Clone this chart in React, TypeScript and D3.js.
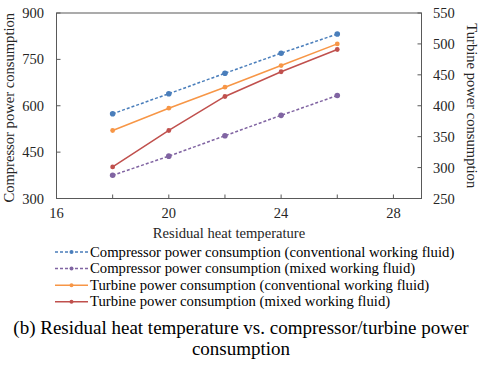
import React, { useEffect, useRef } from "react";
import * as d3 from "d3";

const temps = [18, 20, 22, 24, 26];
const compConv = [574, 639, 705, 770, 832];
const compMixed = [375, 437, 503, 569, 633];
const turbConv = [360, 396, 430, 465, 500];
const turbMixed = [301, 360, 415, 455, 491];

const xTickLabels = [16, 20, 24, 28];
const xMinorTicks = [18, 22, 26];
const leftTicks = [300, 450, 600, 750, 900];
const rightTicks = [250, 300, 350, 400, 450, 500, 550];

const seriesNames = [
  "Compressor power consumption (conventional working fluid)",
  "Compressor power consumption (mixed working fluid)",
  "Turbine power consumption (conventional working fluid)",
  "Turbine power consumption (mixed working fluid)",
];
const seriesColors = ["#4a7ebb", "#8064a2", "#f79646", "#c0504d"];

const FONT = "Times New Roman, Liberation Serif, DejaVu Serif, serif";

const App = () => {
  const svgRef = useRef<SVGSVGElement>(null);

  useEffect(() => {
    const svg = d3.select(svgRef.current).attr("font-family", FONT);
    svg.selectAll("*").remove();
    const left = 56.5;
    const right = 421.5;
    const top = 13;
    const bottom = 198.5;

    const x = d3.scaleLinear().domain([16, 29]).range([left, right]);
    const yL = d3.scaleLinear().domain([300, 900]).range([bottom, top]);
    const yR = d3.scaleLinear().domain([250, 550]).range([bottom, top]);

    const frame = "#595959";
    svg
      .append("rect")
      .attr("x", left)
      .attr("y", top)
      .attr("width", right - left)
      .attr("height", bottom - top)
      .attr("fill", "none")
      .attr("stroke", frame)
      .attr("stroke-width", 1);

    // ticks point inward
    [...xTickLabels, ...xMinorTicks].forEach((t) => {
      if (t === 16) return;
      svg
        .append("line")
        .attr("x1", x(t))
        .attr("x2", x(t))
        .attr("y1", bottom)
        .attr("y2", bottom - 4)
        .attr("stroke", frame);
    });
    leftTicks.forEach((t) => {
      svg
        .append("line")
        .attr("x1", left)
        .attr("x2", left + 4)
        .attr("y1", yL(t))
        .attr("y2", yL(t))
        .attr("stroke", frame);
    });
    rightTicks.forEach((t) => {
      svg
        .append("line")
        .attr("x1", right)
        .attr("x2", right - 4)
        .attr("y1", yR(t))
        .attr("y2", yR(t))
        .attr("stroke", frame);
    });

    const labelStyle = (s: any) =>
      s.attr("font-family", FONT).attr("font-size", 14.5).attr("fill", "#262626");

    xTickLabels.forEach((t) => {
      svg
        .append("text")
        .attr("x", x(t))
        .attr("y", bottom + 19)
        .attr("text-anchor", "middle")
        .call(labelStyle)
        .text(t);
    });
    leftTicks.forEach((t) => {
      svg
        .append("text")
        .attr("x", 44)
        .attr("y", yL(t) + 5)
        .attr("text-anchor", "end")
        .call(labelStyle)
        .text(t);
    });
    rightTicks.forEach((t) => {
      svg
        .append("text")
        .attr("x", 433)
        .attr("y", yR(t) + 5)
        .attr("text-anchor", "start")
        .call(labelStyle)
        .text(t);
    });

    // axis titles
    const titleStyle = (s: any) =>
      s.attr("font-family", FONT).attr("font-size", 14.6).attr("fill", "#262626").attr("text-anchor", "middle");
    svg
      .append("text")
      .attr("x", 229)
      .attr("y", 238)
      .call(titleStyle)
      .text("Residual heat temperature");
    svg
      .append("text")
      .attr("transform", `translate(14,${(top + bottom) / 2 + 2}) rotate(-90)`)
      .call(titleStyle)
      .text("Compressor power consumption");
    svg
      .append("text")
      .attr("transform", `translate(467,${(top + bottom) / 2}) rotate(90)`)
      .call(titleStyle)
      .text("Turbine power consumption");

    const data = [
      { vals: compConv, y: yL, dash: "3,2" },
      { vals: compMixed, y: yL, dash: "3,2" },
      { vals: turbConv, y: yR, dash: null },
      { vals: turbMixed, y: yR, dash: null },
    ];

    data.forEach((d, i) => {
      const pts = temps.map((t, j) => [x(t), d.y(d.vals[j])] as [number, number]);
      const line = d3.line();
      svg
        .append("path")
        .attr("d", line(pts))
        .attr("fill", "none")
        .attr("stroke", seriesColors[i])
        .attr("stroke-width", 1.5)
        .attr("stroke-dasharray", d.dash);
      svg
        .selectAll(null)
        .data(pts)
        .enter()
        .append("circle")
        .attr("cx", (p) => p[0])
        .attr("cy", (p) => p[1])
        .attr("r", i < 2 ? 2.8 : 2.4)
        .attr("fill", seriesColors[i]);
    });

    // legend
    seriesNames.forEach((name, i) => {
      const ly = 252 + i * 16.6;
      svg
        .append("line")
        .attr("x1", 55)
        .attr("x2", 88)
        .attr("y1", ly)
        .attr("y2", ly)
        .attr("stroke", seriesColors[i])
        .attr("stroke-width", 1.5)
        .attr("stroke-dasharray", data[i].dash);
      svg
        .append("circle")
        .attr("cx", 71.5)
        .attr("cy", ly)
        .attr("r", 2)
        .attr("fill", seriesColors[i]);
      svg
        .append("text")
        .attr("x", 90)
        .attr("y", ly + 4.5)
        .attr("font-family", FONT)
        .attr("font-size", 14.7)
        .attr("fill", "#000")
        .text(name);
    });

    // caption
    ["(b) Residual heat temperature vs. compressor/turbine power", "consumption"].forEach((t, i) => {
      svg
        .append("text")
        .attr("x", 241)
        .attr("y", 334 + i * 21)
        .attr("text-anchor", "middle")
        .attr("font-family", FONT)
        .attr("font-size", 19)
        .attr("fill", "#000")
        .text(t);
    });
  }, []);

  return (
    <div style={{ position: "absolute", left: 0, top: 0 }}>
      <svg ref={svgRef} width={480} height={367} style={{ display: "block", background: "#fff" }}></svg>
    </div>
  );
};

export default App;
